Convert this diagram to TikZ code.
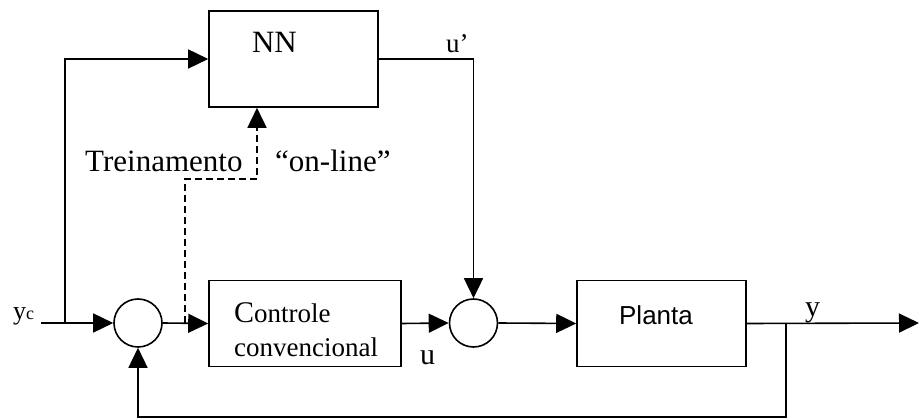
\documentclass[tikz,border=0pt]{standalone}
\usepackage{fontspec}
\setmainfont{Liberation Serif}
\newfontfamily\arialfont{Liberation Sans}
\usetikzlibrary{arrows.meta}
\begin{document}
\begin{tikzpicture}[x=1pt,y=-1pt,>={Triangle[length=20pt,width=19pt]},line join=miter,
	font=\fontsize{31}{36}\selectfont,
	blk/.style={draw,line width=1.6pt,inner sep=0pt},
	soma/.style={draw,circle,line width=1.6pt,minimum size=48pt,inner sep=0pt},
	sinal/.style={line width=1.6pt},
	rot/.style={inner sep=0pt}]
			\useasboundingbox (0,0) rectangle (919,419);
			% blocos
			\node[blk,minimum width=169pt,minimum height=96pt](nn) at (293.5,59) {};
			\node[blk,minimum width=192pt,minimum height=86pt](ctrl) at (305,323.5) {};
			\node[blk,minimum width=169pt,minimum height=86pt](planta) at (661.5,323.5) {};
			\node[soma](s1) at (138,323) {};
			\node[soma](s2) at (473.5,323) {};
			% textos
			\node[rot,anchor=base](tnn) at (274.5,53) {NN};
			\node[rot,anchor=base west,align=left,font=\fontsize{27}{34}\selectfont](tctrl) at (234,357) {{\fontsize{30}{34}\selectfont C}ontrole\\convencional};
			\node[rot,anchor=base,font=\arialfont\fontsize{26}{30}\selectfont](tpl) at (656,325) {Planta};
			\node[rot,anchor=base west](ttr) at (85,172) {Treinamento};
			\node[rot,anchor=base west](tol) at (275,172) {“on-line”};
			% pontos
			\coordinate(yc) at (41,323);
			\coordinate(j1) at (65,323);
			\coordinate(t1) at (185,323);
			\coordinate(tb) at (257,179);
			\coordinate(fb) at (786,323);
			\coordinate(bot) at (786,417);
			\coordinate(out) at (919,323);
			\node[rot,anchor=base west,font=\fontsize{26}{30}\selectfont](lyc) at (13,320) {y{\fontsize{18}{20}\selectfont c}};
			\node[rot,anchor=base west,font=\fontsize{27}{30}\selectfont](lu1) at (446,53) {u’};
			\node[rot,anchor=base west,font=\fontsize{30}{34}\selectfont](lu) at (420,365) {u};
			\node[rot,anchor=base west,font=\fontsize{30}{34}\selectfont](ly) at (805,317) {y};
			% ligacoes
			\draw[sinal,->] (yc)--(s1.west);
			\draw[sinal,->] (j1) |- (nn.west);
			\draw[sinal,->] (s1.east)--(ctrl.west);
			\draw[sinal,dash pattern=on 7pt off 4pt,->] (t1) |- (tb) -- (tb |- nn.south);
			\draw[sinal,->] (nn.east) -| (s2.north);
			\draw[sinal,->] (ctrl.east)--(s2.west);
			\draw[sinal,->] (s2.east)--(planta.west);
			\draw[sinal,->] (planta.east)--(out);
			\draw[sinal,->] (fb)--(bot) -| (s1.south);
			\end{tikzpicture}
\end{document}
